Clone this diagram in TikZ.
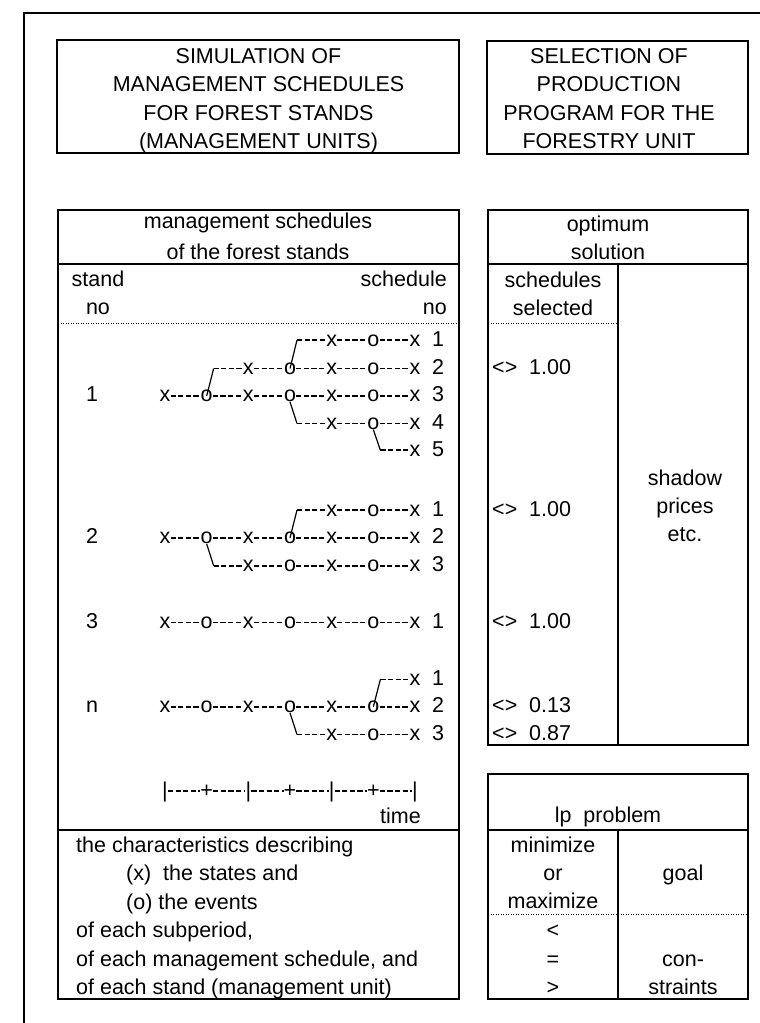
\documentclass[tikz,border=0pt]{standalone}
\usepackage{fontspec}
\setmainfont{Liberation Sans}

\tikzset{
  box/.style={line width=1.5pt},
  frame/.style={line width=2pt},
  dotline/.style={line width=1pt, dash pattern=on 1pt off 1.5pt},
  txt/.style={inner sep=0pt, anchor=base},
  glyph/.style={inner sep=0pt, text height=11.8pt, text depth=0pt, anchor=base},
  hyph/.style={line width=1.5pt, dash pattern=on 5.2pt off 2.4pt},
  branch/.style={line width=1.2pt},
}

% one schedule row: name, baseline, first column, schedule no
\newcommand{\schedrow}[4]{%
  \foreach \k in {#3,...,6} {
    \node[glyph] (#1c\k) at ({165+41.667*\k},#2) {\ifodd\k\relax o\else x\fi};
  }
  \ifnum#3<6
    \foreach \k [evaluate=\k as \q using int(\k+1)] in {#3,...,5} {
      \draw[hyph] (#1c\k) -- (#1c\q);
    }
  \fi
  \node[txt] (#1n) at (438,#2) {#4};
}
\newcommand{\branchup}[2]{%
  \draw[branch] (#1.center) -- ([xshift=7pt]#1.center |- #2.center);
  \draw[hyph] ([xshift=7pt]#1.center |- #2.center) -- (#2);
}
\newcommand{\branchdown}[2]{%
  \draw[branch] (#1.south) -- ([xshift=7pt]#1.south |- #2.center);
  \draw[hyph] ([xshift=7pt]#1.south |- #2.center) -- (#2);
}

\begin{document}
\begin{tikzpicture}[x=1pt, y=-1pt, font=\fontsize{21.5}{28.2}\selectfont]
  \useasboundingbox (0,0) rectangle (760,1023);
  \draw[frame] (24,1030) -- (24,13) -- (770,13);

  % titles
  \draw[box] (57,40) rectangle (459,153);
  \node[txt, align=center, anchor=north] (simtitle) at (258.5,48.5)
    {SIMULATION OF\\MANAGEMENT SCHEDULES\\FOR FOREST STANDS\\(MANAGEMENT UNITS)};
  \draw[box] (487,41) rectangle (748,154);
  \node[txt, align=center, anchor=north] (seltitle) at (609,48.5)
    {SELECTION OF\\PRODUCTION\\PROGRAM FOR THE\\FORESTRY UNIT};

  % simulation block
  \draw[box] (58,210) rectangle (459,999);
  \draw[box] (58,264) -- (459,264);
  \draw[dotline] (58,323) -- (459,323);
  \draw[box] (58,830) -- (459,830);
  \node[txt, align=center, anchor=north] (schedhead) at (258,212.5)
    {management schedules\\[3pt]of the forest stands};
  \node[txt, align=center, anchor=north] (standhead) at (98,270.5) {stand\\no};
  \node[txt, align=right, anchor=north east] (nohead) at (447,270.5) {schedule\\no};

  % stand 1
  \schedrow{s1r1}{346}{4}{1}
  \schedrow{s1r2}{374.4}{2}{2}
  \schedrow{s1r3}{401.7}{0}{3}
  \schedrow{s1r4}{429.4}{4}{4}
  \schedrow{s1r5}{456}{6}{5}
  \branchup{s1r3c1}{s1r2c2}
  \branchup{s1r2c3}{s1r1c4}
  \branchdown{s1r3c3}{s1r4c4}
  \branchdown{s1r4c5}{s1r5c6}
  \node[txt] (stand1) at (92,401.7) {1};

  % stand 2
  \schedrow{s2r1}{516}{4}{1}
  \schedrow{s2r2}{543.7}{0}{2}
  \schedrow{s2r3}{571.7}{2}{3}
  \branchup{s2r2c3}{s2r1c4}
  \branchdown{s2r2c1}{s2r3c2}
  \node[txt] (stand2) at (92,543.7) {2};

  % stand 3
  \schedrow{s3r1}{628.4}{0}{1}
  \node[txt] (stand3) at (92,628.4) {3};

  % stand n
  \schedrow{snr1}{685.4}{6}{1}
  \schedrow{snr2}{712.7}{0}{2}
  \schedrow{snr3}{740.4}{4}{3}
  \branchup{snr2c5}{snr1c6}
  \branchdown{snr2c3}{snr3c4}
  \node[txt] (standn) at (92,712.7) {n};

  % time axis
  \foreach \k in {0,...,6} {
    \node[glyph] (tick\k) at ({165+41.667*\k},797) {\ifodd\k\relax +\else |\fi};
  }
  \foreach \k [evaluate=\k as \q using int(\k+1)] in {0,...,5} {
    \draw[hyph] (tick\k) -- (tick\q);
  }
  \node[txt, anchor=base east] (timelabel) at (421,823) {time};

  % characteristics
  \node[txt, anchor=base west] (char1) at (76,852) {the characteristics describing};
  \node[txt, anchor=base west] (char2) at (126,880.5) {(x)~ the states and};
  \node[txt, anchor=base west] (char3) at (126,909) {(o) the events};
  \node[txt, anchor=base west] (char4) at (76,937.5) {of each subperiod,};
  \node[txt, anchor=base west] (char5) at (76,966) {of each management schedule, and};
  \node[txt, anchor=base west] (char6) at (76,994) {of each stand (management unit)};

  % optimum solution
  \draw[box] (488,210) rectangle (748,745);
  \draw[box] (488,264) -- (748,264);
  \draw[box] (618,264) -- (618,745);
  \draw[dotline] (488,323) -- (618,323);
  \node[txt, align=center, anchor=north] (opthead) at (608,215.5) {optimum\\solution};
  \node[txt, align=center, anchor=north] (selhead) at (553,271.5) {schedules\\selected};
  \foreach \b/\v [count=\i] in {374.4/1.00, 516/1.00, 628.4/1.00, 712.7/0.13, 740.4/0.87} {
    \node[txt, anchor=base west] (val\i) at (492,\b) {<>~ \v};
  }
  \node[txt, align=center, anchor=north] (shadow) at (685,469.6) {shadow\\prices\\etc.};

  % lp problem
  \draw[box] (488,774) rectangle (748,999);
  \draw[box] (488,830) -- (748,830);
  \draw[box] (618,830) -- (618,999);
  \draw[dotline] (488,914) -- (748,914);
  \node[txt] (lphead) at (608,822) {lp~ problem};
  \node[txt, align=center, anchor=north] (minmax) at (553,836.6) {minimize\\or\\maximize};
  \node[txt] (goal) at (683,880.5) {goal};
  \foreach \s/\b [count=\i] in {</937.5, =/966, >/994} {
    \node[txt] (rel\i) at (553,\b) {\s};
  }
  \node[txt] (con1) at (683,966) {con-};
  \node[txt] (con2) at (683,994) {straints};
\end{tikzpicture}
\end{document}
